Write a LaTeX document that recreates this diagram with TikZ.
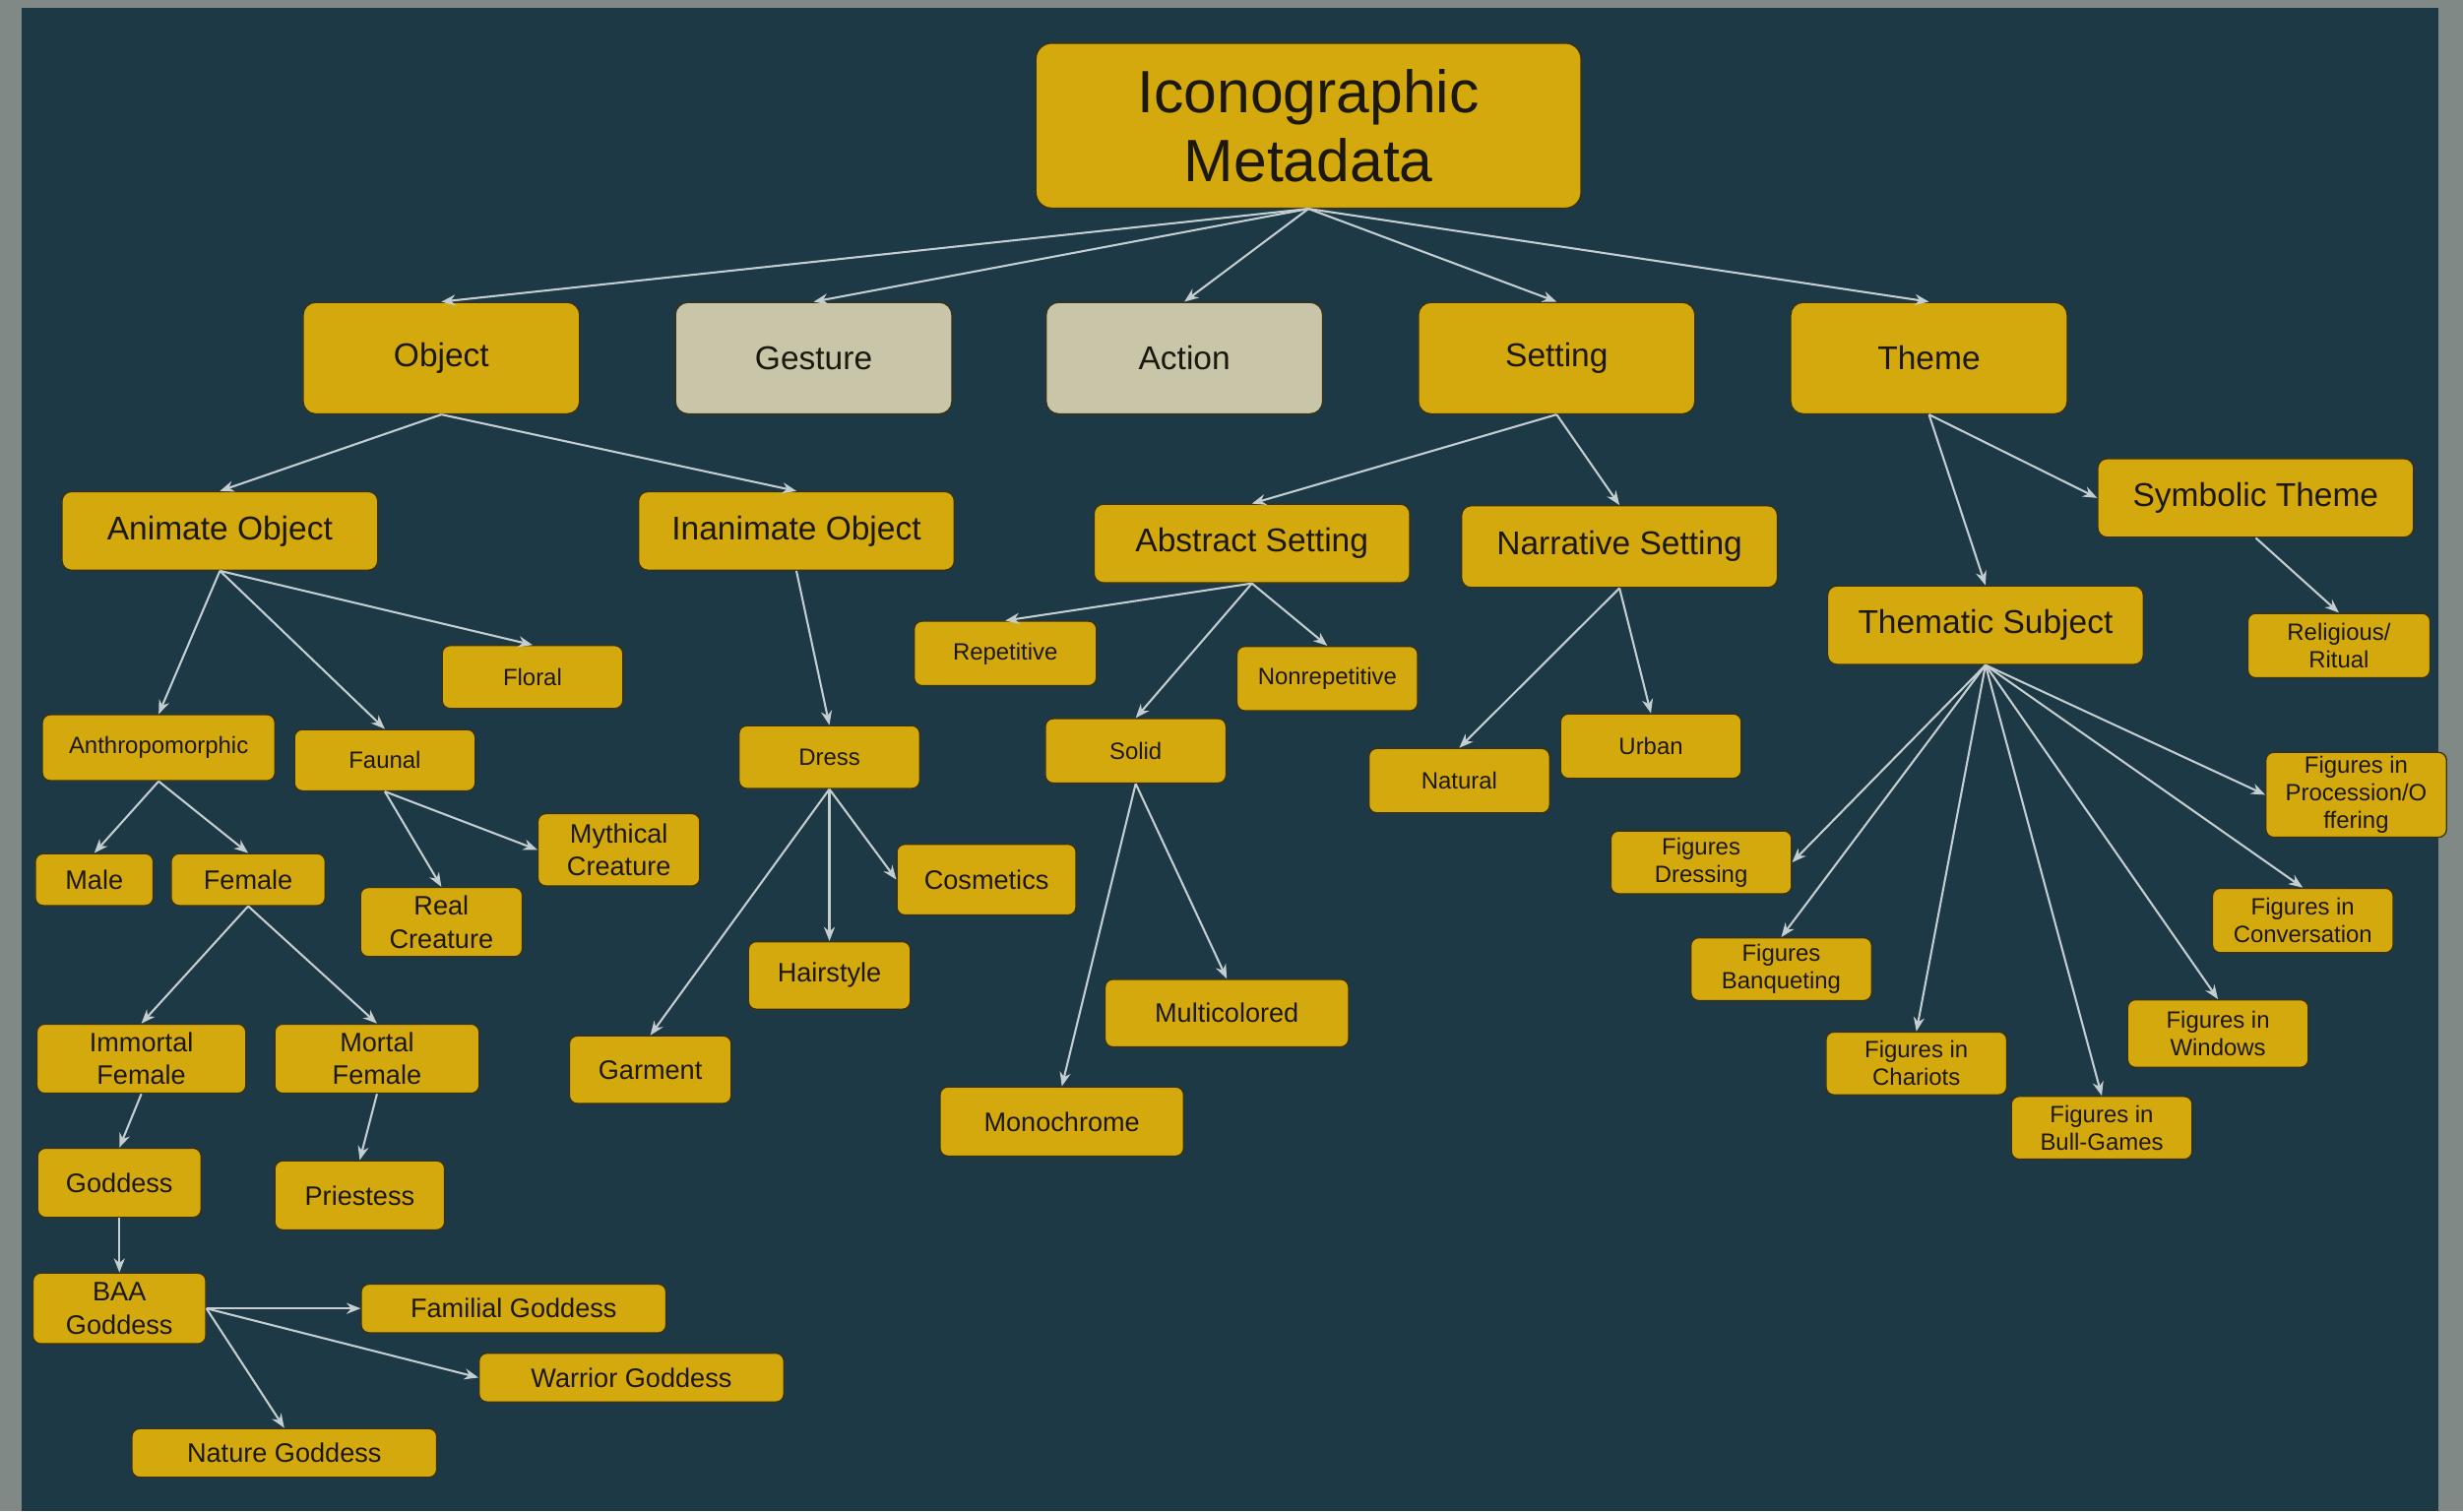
\documentclass[tikz,border=0pt]{standalone}
\usepackage{fontspec}
\setmainfont{Liberation Sans}
\usetikzlibrary{arrows.meta}

\definecolor{gold}{RGB}{212,169,14}
\definecolor{pale}{RGB}{201,197,168}
\definecolor{panel}{RGB}{29,57,69}
\definecolor{rim}{RGB}{128,137,133}
\definecolor{wire}{RGB}{196,205,207}
\definecolor{ink}{RGB}{28,24,14}
\definecolor{boxrim}{RGB}{58,48,18}

\tikzset{
  box/.style={draw=boxrim, line width=.8pt, fill=gold, text=ink, align=center,
    inner sep=0pt, rounded corners=6pt},
  big/.style={box, minimum width=347pt, minimum height=105pt, rounded corners=10pt,
    font=\fontsize{38}{44}\selectfont},
  head/.style={box, minimum width=176pt, minimum height=71pt, rounded corners=8pt,
    font=\fontsize{21}{25}\selectfont},
  sub/.style={box, minimum width=201pt, minimum height=50pt,
    font=\fontsize{21}{25}\selectfont},
  leaf/.style={box, minimum width=115pt, minimum height=40pt, rounded corners=5pt,
    font=\fontsize{15}{17.5}\selectfont},
  mid/.style={box, minimum height=44pt, rounded corners=5pt,
    font=\fontsize{17}{21}\selectfont},
}

\begin{document}
\begin{tikzpicture}[x=1pt,y=-1pt]

        \useasboundingbox (0,0) rectangle (1568,962);
        \fill[rim] (0,0) rectangle (1568,962);
        \fill[panel] (14,5) rectangle (1552,962);

        % top and first row
        \node[big]  (1)  at (833,80)   {Iconographic\\Metadata};
        \node[head] (2)  at (281,228)  {Object};
        \node[head, fill=pale] (3)  at (518,228)  {Gesture};
        \node[head, fill=pale] (4)  at (754,228)  {Action};
        \node[head] (5)  at (991,228)  {Setting};
        \node[head] (6)  at (1228,228) {Theme};

        % second row
        \node[sub] (7)  at (140,338)  {Animate Object};
        \node[sub] (8)  at (507,338)  {Inanimate Object};
        \node[sub] (9)  at (797,346)  {Abstract Setting};
        \node[sub, minimum height=52pt] (10) at (1031,348) {Narrative Setting};
        \node[sub] (11) at (1436,317) {Symbolic Theme};
        \node[sub] (12) at (1264,398) {Thematic Subject};

        % animate object
        \node[leaf] (13) at (339,431) {Floral};
        \node[leaf, minimum width=148pt, minimum height=42pt] (14) at (101,476) {Anthropomorphic};
        \node[leaf, minimum height=39pt] (15) at (245,484) {Faunal};
        \node[mid, minimum width=75pt, minimum height=33pt] (16) at (60,560) {Male};
        \node[mid, minimum width=98pt, minimum height=33pt] (17) at (158,560) {Female};
        \node[mid, minimum width=103pt, minimum height=46pt] (18) at (394,541) {Mythical\\Creature};
        \node[mid, minimum width=103pt] (19) at (281,587) {Real\\Creature};
        \node[mid, minimum width=133pt] (20) at (90,674)  {Immortal\\Female};
        \node[mid, minimum width=130pt] (21) at (240,674) {Mortal\\Female};
        \node[mid, minimum width=104pt] (22) at (76,753)  {Goddess};
        \node[mid, minimum width=108pt] (23) at (229,761) {Priestess};
        \node[mid, minimum width=110pt, minimum height=45pt] (24) at (76,833) {BAA\\Goddess};
        \node[mid, minimum width=194pt, minimum height=31pt] (25) at (327,833) {Familial Goddess};
        \node[mid, minimum width=194pt, minimum height=31pt] (26) at (402,877) {Warrior Goddess};
        \node[mid, minimum width=194pt, minimum height=31pt] (27) at (181,925) {Nature Goddess};

        % inanimate object
        \node[leaf] (28) at (528,482) {Dress};
        \node[mid, minimum width=103pt, minimum height=43pt] (29) at (414,681) {Garment};
        \node[mid, minimum width=103pt, minimum height=43pt] (30) at (528,621) {Hairstyle};
        \node[mid, minimum width=114pt, minimum height=45pt] (31) at (628,560) {Cosmetics};

        % setting
        \node[leaf, minimum width=116pt, minimum height=41pt] (32) at (640,416) {Repetitive};
        \node[leaf, minimum height=41pt] (33) at (845,432) {Nonrepetitive};
        \node[leaf, minimum height=41pt] (34) at (723,478) {Solid};
        \node[mid, minimum width=155pt] (35) at (676,714) {Monochrome};
        \node[mid, minimum width=155pt, minimum height=43pt] (36) at (781,645) {Multicolored};
        \node[leaf, minimum height=41pt] (37) at (929,497)  {Natural};
        \node[leaf, minimum height=41pt] (38) at (1051,475) {Urban};

        % theme
        \node[leaf, minimum width=116pt, minimum height=41pt] (39) at (1489,411) {Religious/\\Ritual};
        \node[leaf] (40) at (1083,549) {Figures\\Dressing};
        \node[leaf] (41) at (1134,617) {Figures\\Banqueting};
        \node[leaf] (42) at (1220,677) {Figures in\\Chariots};
        \node[leaf] (43) at (1338,718) {Figures in\\Bull-Games};
        \node[leaf, minimum height=43pt] (44) at (1412,658) {Figures in\\Windows};
        \node[leaf, minimum height=41pt] (45) at (1466,586) {Figures in\\Conversation};
        \node[leaf, minimum height=54pt] (46) at (1500,506) {Figures in\\Procession/O\\ffering};

        \begin{scope}[every edge/.style={draw=wire, line width=1.3pt, -{Stealth[length=9pt,width=7pt]}}]
          \path (1.south)  edge (2.north)  edge (3.north)  edge (4.north)
                           edge (5.north)  edge (6.north);
          \path (2.south)  edge (7.north)  edge (8.north);
          \path (7.south)  edge (14.north) edge (15.north) edge (13.north);
          \path (14.south) edge (16.north) edge (17.north);
          \path (17.south) edge (20.north) edge (21.north);
          \path (20.south) edge (22.north);
          \path (21.south) edge (23.north);
          \path (22.south) edge (24.north);
          \path (24.east)  edge (25.west)  edge (26.west)  edge (27.north);
          \path (15.south) edge (19.north) edge (18.west);
          \path (8.south)  edge (28.north);
          \path (28.south) edge (29.north) edge (30.north) edge (31.west);
          \path (5.south)  edge (9.north)  edge (10.north);
          \path (9.south)  edge (32.north) edge (33.north) edge (34.north);
          \path (34.south) edge (35.north) edge (36.north);
          \path (10.south) edge (37.north) edge (38.north);
          \path (6.south)  edge (12.north) edge (11.west);
          \path (11.south) edge (39.north);
          \path (12.south) edge (40.east)  edge (41.north) edge (42.north)
                           edge (43.north) edge (44.north) edge (45.north)
                           edge (46.west);
        \end{scope}

      \end{tikzpicture}
\end{document}
